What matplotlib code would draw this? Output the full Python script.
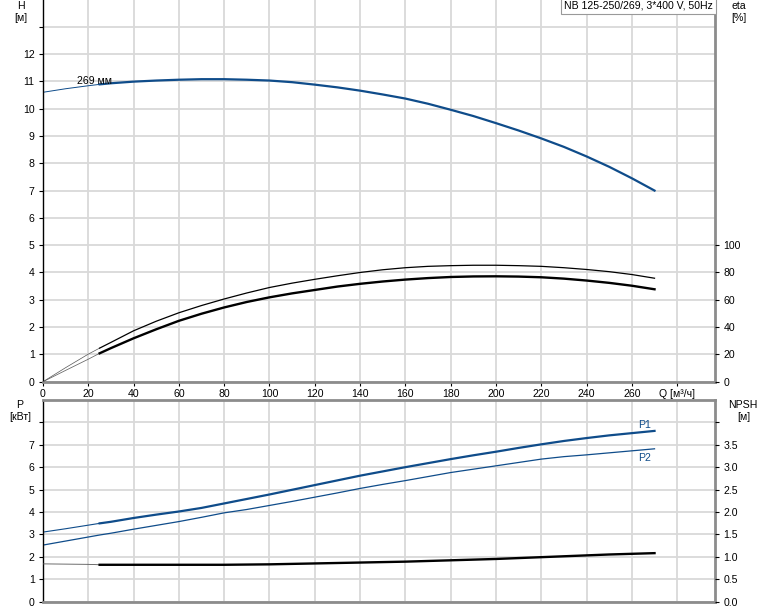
import matplotlib
matplotlib.use("Agg")
from matplotlib import pyplot as plt

plt.rcParams['font.family'] = ['Liberation Sans', 'DejaVu Sans']
plt.rcParams['font.size'] = 7.6

# flow points [m3/h]
q = [0, 10, 20, 25, 30, 40, 50, 60, 70, 80, 90, 100, 110, 120, 130, 140,
     150, 160, 170, 180, 190, 200, 210, 220, 230, 240, 250, 260, 270]

# head [m]
head = [10.6, 10.73, 10.84, 10.89, 10.93, 10.99, 11.03, 11.06, 11.08, 11.08,
        11.06, 11.03, 10.97, 10.88, 10.78, 10.66, 10.52, 10.37, 10.18, 9.96,
        9.73, 9.47, 9.2, 8.91, 8.6, 8.25, 7.87, 7.45, 7.0]

# efficiency [%], upper and lower curve
eta_upper = [0, 10.3, 20.2, 24.6, 28.8, 37.3, 44.3, 50.5, 55.8, 60.6, 65, 69,
             72.2, 75, 77.6, 80, 82, 83.5, 84.5, 85, 85.3, 85.3, 85, 84.5,
             83.5, 82.2, 80.6, 78.5, 75.8]
eta_lower = [0, 8.3, 16.5, 20.8, 24.6, 31.8, 38.4, 44.6, 49.8, 54.4, 58.4,
             61.8, 64.7, 67.2, 69.7, 71.7, 73.4, 74.8, 75.9, 76.7, 77.1, 77.2,
             77.0, 76.5, 75.5, 74.1, 72.4, 70.3, 67.7]

# power [kW]
p1 = [3.1, 3.25, 3.41, 3.49, 3.56, 3.73, 3.88, 4.02, 4.18, 4.38, 4.58, 4.78,
      4.99, 5.2, 5.41, 5.62, 5.81, 6.0, 6.18, 6.36, 6.53, 6.69, 6.86, 7.02,
      7.17, 7.3, 7.42, 7.52, 7.62]
p2 = [2.52, 2.7, 2.88, 2.97, 3.05, 3.23, 3.4, 3.57, 3.76, 3.96, 4.11, 4.29,
      4.47, 4.66, 4.85, 5.05, 5.23, 5.4, 5.58, 5.76, 5.91, 6.06, 6.21, 6.36,
      6.47, 6.55, 6.64, 6.73, 6.82]

# NPSH [m]
npsh = [0.84, 0.835, 0.83, 0.82, 0.82, 0.82, 0.82, 0.82, 0.82, 0.82, 0.825,
        0.83, 0.84, 0.85, 0.86, 0.87, 0.88, 0.89, 0.905, 0.92, 0.935, 0.95,
        0.97, 0.99, 1.01, 1.03, 1.05, 1.065, 1.08]

x_ticks = [0, 20, 40, 60, 80, 100, 120, 140, 160, 180, 200, 220, 240, 260, 280]
x_labels = ['0', '20', '40', '60', '80', '100', '120', '140', '160', '180',
            '200', '220', '240', '260', 'Q [м³/ч]']

blue = '#0f4c8a'
grid_c = '#d9d9d9'
spine_c = '#8c8c8c'
k = 3  # index where the operating range (thick line) starts, Q = 25

W, H = 774, 611
fig = plt.figure(figsize=(W / 100, H / 100), dpi=100)
ax1 = fig.add_axes([43 / W, 1 - 381.7 / H, 672 / W, 381.7 / H])
ax2 = fig.add_axes([43 / W, 1 - 601.5 / H, 672 / W, 201.5 / H])


def style(ax, top):
    ax.set_xlim(0, 296.7)
    ax.set_xticks(x_ticks)
    ax.grid(True, color=grid_c, linewidth=1.3)
    ax.set_axisbelow(True)
    ax.spines['left'].set_color('black')
    ax.spines['left'].set_linewidth(1.0)
    for s in ['bottom', 'right', 'top']:
        ax.spines[s].set_color(spine_c)
        ax.spines[s].set_linewidth(2.0)
    if top:
        ax.spines['top'].set_visible(False)
    ax.tick_params(axis='y', length=3, width=0.8, pad=3)


# ---- upper chart: head + efficiency
style(ax1, True)
ax1.set_ylim(0, 13.98)
ax1.set_yticks(range(0, 14))
ax1.set_yticklabels([str(v) for v in range(0, 13)] + [''])
ax1.set_xticklabels(x_labels)
ax1.tick_params(axis='x', length=3, width=0.8, pad=2)

ax1.plot(q[:k + 1], head[:k + 1], color=blue, lw=0.7)
ax1.plot(q[k:], head[k:], color=blue, lw=1.6)
ax1.text(15, 11.0, '269 мм', va='center', ha='left')

ax1r = ax1.twinx()
ax1r.set_ylim(0, 13.98 * 20)
ax1r.set_yticks([0, 20, 40, 60, 80, 100])
ax1r.tick_params(axis='y', length=3, width=0.8, pad=3)
for s in ax1r.spines.values():
    s.set_visible(False)
ax1r.plot(q[:k + 1], eta_upper[:k + 1], color='#555555', lw=0.5)
ax1r.plot(q[k:], eta_upper[k:], color='black', lw=0.9)
ax1r.plot(q[:k + 1], eta_lower[:k + 1], color='#555555', lw=0.5)
ax1r.plot(q[k:], eta_lower[k:], color='black', lw=1.7)

ax1.text(0.997, 0.998, 'NB 125-250/269, 3*400 V, 50Hz', transform=ax1.transAxes,
         ha='right', va='top', zorder=10,
         bbox=dict(boxstyle='square,pad=0.3', fc='white', ec='#999999', lw=0.8))

# ---- lower chart: power + NPSH
style(ax2, False)
ax2.set_ylim(0, 9.0)
ax2.set_yticks(range(0, 9))
ax2.set_yticklabels([str(v) for v in range(0, 8)] + [''])
ax2.set_xticklabels([])
ax2.tick_params(axis='x', length=0)

ax2.plot(q[:k + 1], p1[:k + 1], color=blue, lw=0.8)
ax2.plot(q[k:], p1[k:], color=blue, lw=1.6)
ax2.plot(q, p2, color=blue, lw=0.9)
ax2.text(265.8, 7.9, 'P1', color=blue, ha='center', va='center')
ax2.text(265.8, 6.43, 'P2', color=blue, ha='center', va='center')

ax2r = ax2.twinx()
ax2r.set_ylim(0, 4.5)
ax2r.set_yticks([0, 0.5, 1.0, 1.5, 2.0, 2.5, 3.0, 3.5, 4.0])
ax2r.set_yticklabels(['0.0', '0.5', '1.0', '1.5', '2.0', '2.5', '3.0', '3.5', ''])
ax2r.tick_params(axis='y', length=3, width=0.8, pad=3)
for s in ax2r.spines.values():
    s.set_visible(False)
ax2r.plot(q[:k + 1], npsh[:k + 1], color='#555555', lw=0.6)
ax2r.plot(q[k:], npsh[k:], color='black', lw=1.7)

# ---- axis titles
def px_text(x, y, s):
    fig.text(x / W, 1 - y / H, s, ha='center', va='center')


px_text(21, 6, 'H')
px_text(21, 18, '[м]')
px_text(739, 6, 'eta')
px_text(739, 18, '[%]')
px_text(20, 405, 'P')
px_text(20, 417, '[кВт]')
px_text(743, 405, 'NPSH')
px_text(744, 417, '[м]')

fig.savefig('out.png', dpi=100)
